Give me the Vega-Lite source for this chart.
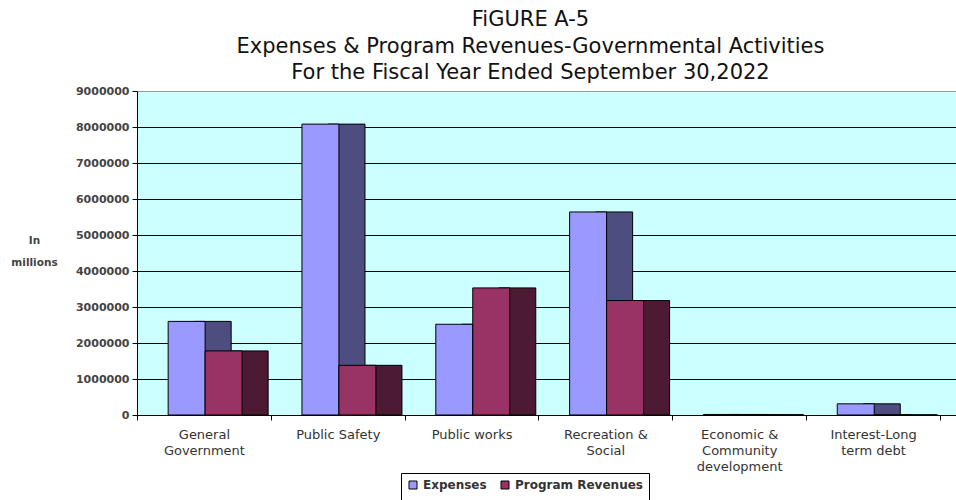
{
  "$schema": "https://vega.github.io/schema/vega-lite/v6.json",
  "width": 819,
  "height": 324,
  "autosize": {"type": "none"},
  "padding": {"left": 137, "top": 91, "right": 0, "bottom": 85},
  "background": "white",
  "title": {
    "text": ["FiGURE A-5", "Expenses & Program Revenues-Governmental Activities", "For the Fiscal Year Ended September 30,2022"],
    "font": "DejaVu Sans",
    "fontSize": 21,
    "fontWeight": "normal",
    "color": "#111",
    "lineHeight": 26.5,
    "anchor": "middle",
    "dx": -16,
    "offset": 2
  },
  "data": {
    "values": [
      {"category": "General Government", "series": "Expenses", "value": 2600000},
      {"category": "General Government", "series": "Program Revenues", "value": 1780000},
      {"category": "Public Safety", "series": "Expenses", "value": 8080000},
      {"category": "Public Safety", "series": "Program Revenues", "value": 1380000},
      {"category": "Public works", "series": "Expenses", "value": 2520000},
      {"category": "Public works", "series": "Program Revenues", "value": 3530000},
      {"category": "Recreation & Social", "series": "Expenses", "value": 5640000},
      {"category": "Recreation & Social", "series": "Program Revenues", "value": 3180000},
      {"category": "Economic & Community development", "series": "Expenses", "value": 15000},
      {"category": "Economic & Community development", "series": "Program Revenues", "value": 10000},
      {"category": "Interest-Long term debt", "series": "Expenses", "value": 310000},
      {"category": "Interest-Long term debt", "series": "Program Revenues", "value": 5000}
    ]
  },
  "encoding": {
    "x": {
      "field": "category",
      "type": "nominal",
      "sort": null,
      "title": null,
      "scale": {"paddingInner": 0, "paddingOuter": 0.06, "align": 0},
      "axis": {
        "labelAngle": 0,
        "tickBand": "extent",
        "labelFont": "DejaVu Sans",
        "labelFontSize": 13,
        "labelColor": "#333",
        "labelLineHeight": 16,
        "labelPadding": 8,
        "labelBaseline": "top",
        "tickSize": 5,
        "tickColor": "black",
        "domainColor": "black",
        "labelExpr": "datum.value === 'General Government' ? ['General','Government'] : datum.value === 'Recreation & Social' ? ['Recreation &','Social'] : datum.value === 'Economic & Community development' ? ['Economic &','Community','development'] : datum.value === 'Interest-Long term debt' ? ['Interest-Long','term debt'] : datum.value"
      }
    },
    "y": {
      "field": "value",
      "type": "quantitative",
      "scale": {"domain": [0, 9000000], "nice": false},
      "axis": {
        "title": ["In", "millions"],
        "titleAngle": 0,
        "titleX": -103,
        "titleY": 144,
        "titleAlign": "center",
        "titleBaseline": "top",
        "titleFont": "DejaVu Sans",
        "titleFontSize": 10.5,
        "titleFontWeight": "bold",
        "titleColor": "#444",
        "titleLineHeight": 22,
        "values": [0, 1000000, 2000000, 3000000, 4000000, 5000000, 6000000, 7000000, 8000000, 9000000],
        "format": "d",
        "labelFont": "DejaVu Sans",
        "labelFontSize": 11,
        "labelFontWeight": "bold",
        "labelColor": "#444",
        "labelPadding": 3,
        "tickSize": 5,
        "tickColor": "black",
        "domainColor": "black",
        "grid": true,
        "gridColor": {"condition": {"test": "datum.value === 9000000", "value": "#999999"}, "value": "black"},
        "gridWidth": 1.2,
        "gridOpacity": 1
      }
    }
  },
  "layer": [
    {
      "mark": {"type": "bar", "stroke": "black", "strokeWidth": 1},
      "encoding": {
        "xOffset": {"field": "series", "type": "nominal", "scale": {"paddingInner": 0, "paddingOuter": 0.81, "align": 0.955}},
        "color": {"condition": {"test": "datum.series === 'Expenses'", "value": "#4D4D80"}, "value": "#4D1A33"}
      }
    },
    {
      "mark": {"type": "bar", "stroke": "black", "strokeWidth": 1},
      "encoding": {
        "xOffset": {"field": "series", "type": "nominal", "scale": {"paddingInner": 0, "paddingOuter": 0.81, "align": 0.52}},
        "color": {
          "field": "series",
          "type": "nominal",
          "scale": {"domain": ["Expenses", "Program Revenues"], "range": ["#9999FF", "#993366"]},
          "legend": {
            "orient": "none",
            "legendX": 264,
            "legendY": 382,
            "direction": "horizontal",
            "title": " ",
            "titleOrient": "bottom",
            "titleFontSize": 12,
            "symbolType": "square",
            "symbolSize": 64,
            "symbolStrokeColor": "black",
            "symbolStrokeWidth": 1,
            "symbolOpacity": 1,
            "labelFont": "DejaVu Sans",
            "labelFontSize": 12,
            "labelFontWeight": "bold",
            "labelColor": "#333",
            "labelOffset": 4,
            "columnPadding": 12,
            "strokeColor": "black",
            "fillColor": "white",
            "padding": 6
          }
        }
      }
    }
  ],
  "resolve": {"scale": {"xOffset": "independent"}},
  "config": {"view": {"fill": "#CCFFFF", "stroke": null}}
}
